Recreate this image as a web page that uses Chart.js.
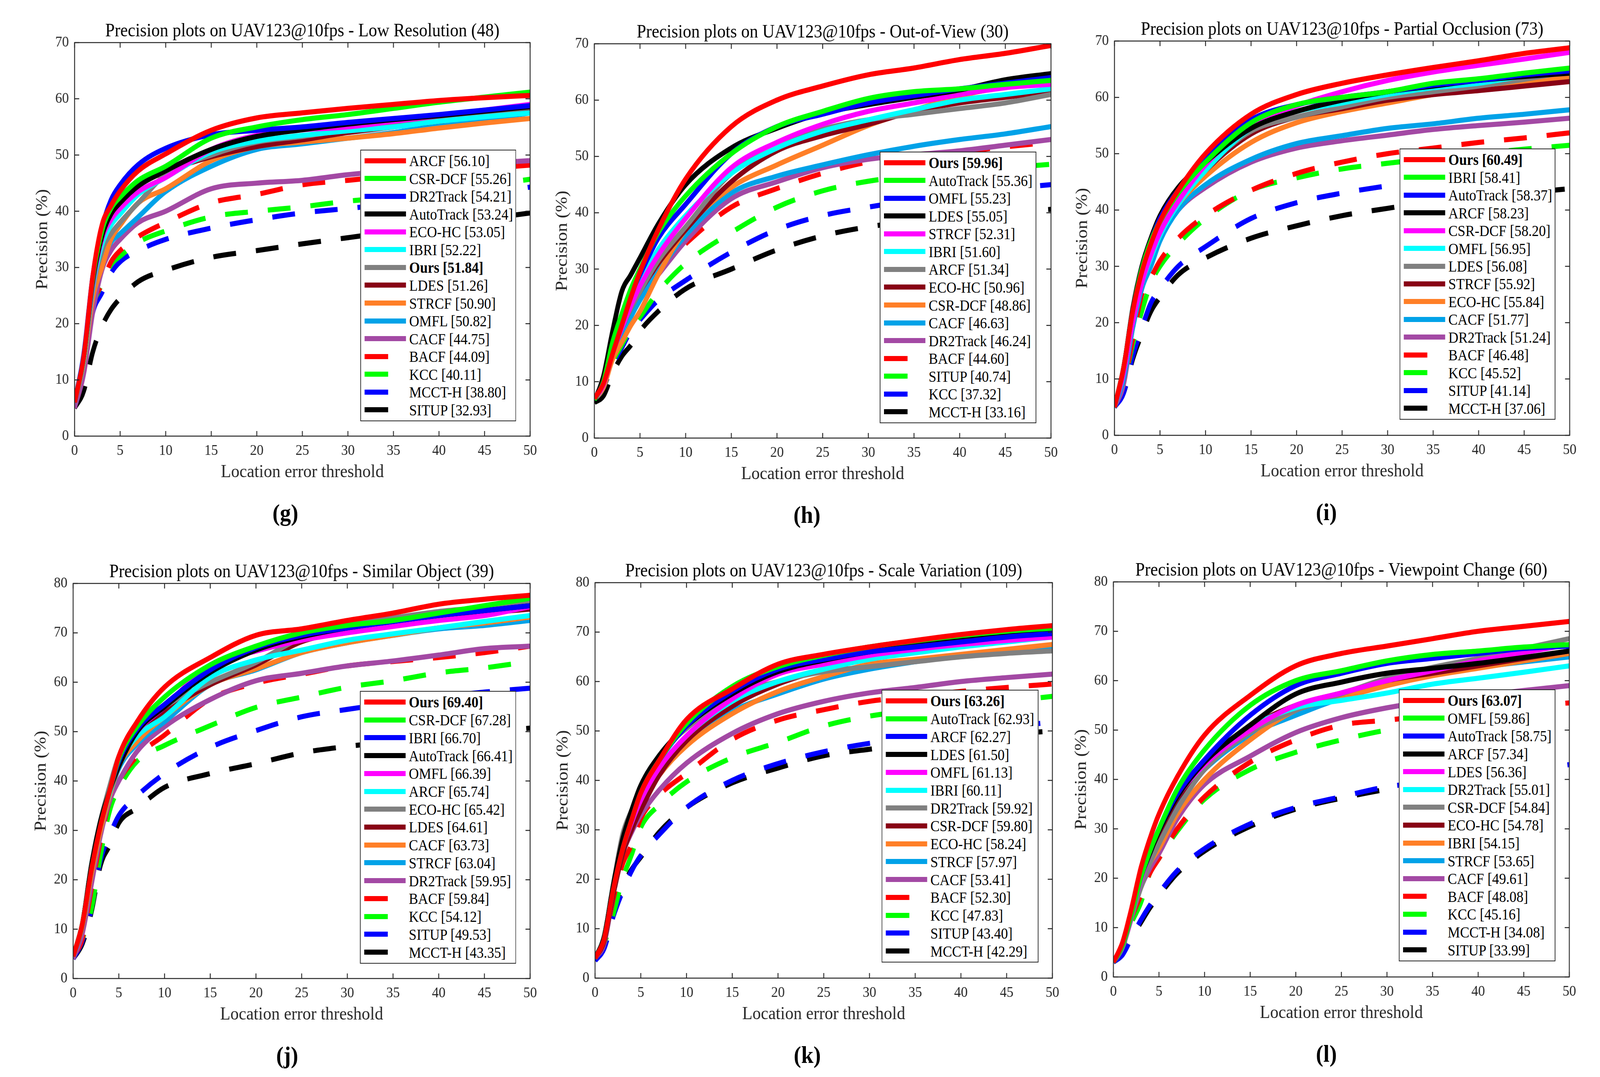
<!DOCTYPE html>
<html>
<head>
<meta charset="utf-8">
<title>Precision plots on UAV123@10fps</title>
<script src="https://cdn.jsdelivr.net/npm/chart.js@4.4.1/dist/chart.umd.min.js"></script>
<style>
  html, body { margin: 0; padding: 0; background: #fff; overflow: hidden; }
  #page { position: absolute; left: 0; top: 0; width: 4485px; height: 2756px; overflow: hidden; background: #fff;
          transform-origin: 0 0; font-family: "Liberation Serif", "Times New Roman", serif; }
  #page canvas { position: absolute; }
  .legend { position: absolute; box-sizing: border-box; border: 2px solid #262626; background: #fff; }
  .legend .row { position: absolute; left: 0; right: 0; }
  .legend .swatch { position: absolute; left: 10px; top: 50%; height: 13px; margin-top: -7px; }
  .legend .label { position: absolute; left: 135px; top: 0; bottom: 0; display: flex; align-items: center;
                   font-size: 39px; white-space: nowrap; color: #000; }
  .legend .label.ours { font-weight: bold; }
  .tag { position: absolute; font-size: 62px; font-weight: bold; line-height: 1; transform: translate(-50%, -50%); }
</style>
</head>
<body>
<div id="page"></div>
<script>
// location error thresholds where the curves are sampled
const thresholds = [0, 1, 2, 3, 4, 5, 7, 10, 15, 20, 25, 30, 35, 40, 45, 50];

// (g) Low Resolution
const lowResNames  = ['ARCF', 'CSR-DCF', 'DR2Track', 'AutoTrack', 'ECO-HC', 'IBRI', 'Ours', 'LDES', 'STRCF', 'OMFL', 'CACF', 'BACF', 'KCC', 'MCCT-H', 'SITUP'];
const lowResScores = ['56.10', '55.26', '54.21', '53.24', '53.05', '52.22', '51.84', '51.26', '50.90', '50.82', '44.75', '44.09', '40.11', '38.80', '32.93'];
const lowResPrecision = [
  [6, 14, 28.5, 37.5, 41, 43.6, 47.2, 50.2, 54.4, 56.6, 57.5, 58.3, 59, 59.7, 60.2, 60.6],
  [6, 14, 28, 36.5, 40.5, 42.5, 45.5, 48, 53, 55, 56.3, 57.2, 58.3, 59.4, 60.3, 61.2],
  [6, 14.5, 28.5, 37, 42, 44.7, 48.3, 51.2, 53.6, 54.4, 55, 55.8, 56.5, 57.2, 58, 58.8],
  [6, 14, 27.5, 35.5, 39.5, 41.5, 44.5, 47.2, 51, 53.3, 54.5, 55.5, 56.3, 57, 57.8, 58.6],
  [6, 14, 27, 35, 38.5, 40.5, 43.5, 46, 51, 53.5, 54.5, 55, 56, 57, 58, 59],
  [6, 13.5, 26.5, 34, 37.5, 39.5, 43, 46, 50.5, 52.5, 53.5, 54.3, 55, 56, 56.8, 57.5],
  [6, 13.5, 26, 33, 36, 38, 41.5, 46.5, 50, 52.3, 53.3, 54.5, 55.5, 56.5, 57.5, 58.5],
  [6, 14, 27, 34.5, 38, 41, 44.5, 47, 49.7, 51.5, 52.7, 54, 55, 56, 57, 58],
  [6, 13, 24.5, 30, 35, 37.5, 41.5, 44, 49, 51.5, 52.3, 53, 53.8, 54.8, 55.7, 56.5],
  [6, 13, 25, 31, 34.5, 36, 39, 43.5, 48, 51, 52, 53, 54, 55.3, 56.3, 57.5],
  [5, 11, 22, 29.5, 33, 35, 38, 40, 44, 45, 45.5, 46.5, 47.2, 48, 48.5, 49],
  [6, 14, 23.5, 27, 31, 33, 35.5, 38, 41.5, 43, 44.7, 45.5, 46.3, 47, 47.6, 48.2],
  [6, 13.5, 23, 27, 30.5, 32, 34.5, 36.5, 39, 40, 40.8, 41.8, 42.5, 43.3, 44.5, 45.7],
  [5.5, 13, 22, 25.5, 29, 31, 33, 35, 37, 38.5, 39.7, 40.5, 41.3, 42, 43, 44.3],
  [5, 8, 15, 19.5, 22.5, 24.5, 27.5, 29.5, 31.8, 33, 34.2, 35.3, 36.4, 37.5, 38.6, 39.7]
];

// (h) Out-of-View
const outViewNames  = ['Ours', 'AutoTrack', 'OMFL', 'LDES', 'STRCF', 'IBRI', 'ARCF', 'ECO-HC', 'CSR-DCF', 'CACF', 'DR2Track', 'BACF', 'SITUP', 'KCC', 'MCCT-H'];
const outViewScores = ['59.96', '55.36', '55.23', '55.05', '52.31', '51.60', '51.34', '50.96', '48.86', '46.63', '46.24', '44.60', '40.74', '37.32', '33.16'];
const outViewPrecision = [
  [7, 9.7, 15, 20, 25, 29.5, 37, 46, 55.3, 60, 62.5, 64.5, 65.7, 67.2, 68.3, 69.7],
  [6.8, 10, 17, 22, 26.5, 30, 36.5, 43, 50.5, 55.3, 58, 60.3, 61.5, 62, 62.8, 63.5],
  [6.8, 10, 16.5, 21, 25.5, 29, 35.5, 41.5, 50.5, 55.3, 57.5, 59.5, 60.8, 62, 63, 64],
  [6.5, 11, 19, 26, 29, 32, 38, 45, 51.5, 55, 57.7, 59.2, 60.5, 61.8, 63.6, 64.7],
  [6.8, 9.5, 15, 19.5, 23.5, 27, 32.5, 39, 48, 52.5, 55.7, 58, 59.5, 61, 62.2, 62.8],
  [6.8, 9.5, 15.5, 20, 24.5, 28, 33.5, 39.5, 47, 51.5, 54.5, 56.5, 58.3, 60, 61, 62],
  [6.8, 9.5, 15, 19.5, 23, 26, 31.5, 37.5, 47, 51.5, 54.8, 56.5, 57.5, 58.5, 59.5, 61],
  [6.8, 9.5, 15, 19.5, 23, 26, 31, 37, 45.5, 51, 53.7, 55.7, 58, 59.5, 60.5, 61.5],
  [6.8, 9, 14, 17, 20, 22.5, 29, 37, 44.5, 48.5, 52, 55.5, 58.2, 60.7, 62.5, 64.3],
  [6.8, 9, 14.5, 18, 21.5, 24.5, 29.5, 36, 43.5, 46.5, 48.5, 50.3, 51.8, 53, 54, 55.3],
  [6.8, 9.5, 15.5, 20, 23, 25, 29, 35, 42.5, 45.5, 48, 49.5, 50.3, 51, 52, 53],
  [7, 9, 14, 18, 22.5, 25, 29.5, 34.5, 41, 44.3, 47, 49, 50, 50.8, 51.7, 52.5],
  [7, 9, 13.5, 16.5, 19.5, 21.5, 26, 31, 36.5, 41, 43.9, 45.6, 46.6, 47.5, 48, 48.6],
  [7, 9, 13, 16, 19, 21, 24.5, 28, 33, 37, 39.5, 41, 42.3, 43.3, 44.2, 45],
  [6.3, 7.5, 11.5, 14.5, 16.5, 19, 22.5, 26.5, 30, 33.4, 35.9, 37.5, 38.5, 39.5, 40, 40.6]
];

// (i) Partial Occlusion
const occlusionNames  = ['Ours', 'IBRI', 'AutoTrack', 'ARCF', 'CSR-DCF', 'OMFL', 'LDES', 'STRCF', 'ECO-HC', 'CACF', 'DR2Track', 'BACF', 'KCC', 'SITUP', 'MCCT-H'];
const occlusionScores = ['60.49', '58.41', '58.37', '58.23', '58.20', '56.95', '56.08', '55.92', '55.84', '51.77', '51.24', '46.48', '45.52', '41.14', '37.06'];
const occlusionPrecision = [
  [5, 12, 22, 29, 34, 38, 43.5, 50, 57, 60.5, 62.5, 64, 65.3, 66.5, 67.8, 68.8],
  [5, 12, 22, 29.5, 34.5, 38, 43, 48.5, 55.5, 58.7, 60, 61, 62.5, 63.3, 64.3, 65.2],
  [5, 12, 22, 29.5, 34.5, 38.5, 43.5, 49, 56, 58.7, 60, 61, 62.2, 63, 64, 64.7],
  [5, 12, 22.5, 30, 35, 39, 44, 48.5, 54.5, 57.5, 59.5, 61, 62, 63, 63.7, 64.3],
  [5, 11, 20, 27, 32, 36, 41.5, 48, 55, 58.5, 61, 63, 64.5, 65.7, 66.8, 68],
  [5, 11, 20, 27, 31.5, 35.5, 41, 47, 54.5, 57.5, 59, 60.5, 61.7, 62.5, 63.8, 65],
  [5, 12, 22, 29, 34, 37.5, 42.5, 47.5, 54, 56.5, 58.3, 60, 61, 62, 63.2, 64.6],
  [5, 11.5, 21, 28, 33, 36.5, 41.5, 47, 53.5, 56.5, 58, 59.5, 60.5, 61.2, 62, 62.8],
  [5, 11, 20, 27, 32, 36, 41, 46, 52, 55.5, 57.5, 59, 60.5, 61.8, 62.8, 63.6],
  [5, 10, 19, 26, 30, 34.5, 40, 44.5, 49, 51.8, 53.2, 54.5, 55.3, 56.3, 57, 57.8],
  [5, 9, 19, 26, 31, 35, 40, 44, 48.5, 51, 52.3, 53.3, 54.3, 55, 55.6, 56.3],
  [5, 9, 17, 25, 28, 31, 35, 39, 43.5, 46.5, 48.5, 50, 51, 52, 52.8, 53.7],
  [5, 9, 16, 22, 27, 30, 34, 38.5, 43.5, 45.7, 47.3, 48.3, 49.2, 50, 50.8, 51.5],
  [5, 7.5, 14, 19, 23.5, 26, 30, 33.5, 38.5, 41.3, 43, 44.3, 45.5, 46.5, 47.3, 48],
  [5, 7.5, 13.5, 18, 22, 24.5, 28.5, 31.5, 35, 37.2, 39, 40.3, 41.5, 42.3, 43, 43.8]
];

// (j) Similar Object
const similarNames  = ['Ours', 'CSR-DCF', 'IBRI', 'AutoTrack', 'OMFL', 'ARCF', 'ECO-HC', 'LDES', 'CACF', 'STRCF', 'DR2Track', 'BACF', 'KCC', 'SITUP', 'MCCT-H'];
const similarScores = ['69.40', '67.28', '66.70', '66.41', '66.39', '65.74', '65.42', '64.61', '63.73', '63.04', '59.95', '59.84', '54.12', '49.53', '43.35'];
const similarPrecision = [
  [4.5, 11, 22, 31, 38, 45, 52, 59, 65, 69.5, 70.8, 72.5, 74, 75.8, 76.8, 77.6],
  [4.5, 11, 22, 31, 38, 44.5, 51, 57, 63.5, 67.3, 70, 71.5, 72.5, 74, 75.5, 77],
  [4.5, 11, 22, 31, 38, 44, 50.5, 55.5, 62.5, 67, 69.5, 71, 72.3, 73.5, 74.5, 75.5],
  [4.5, 11, 23, 32, 38, 43, 50, 55, 62, 66.5, 69.2, 71, 72.3, 73.5, 74.5, 75.5],
  [4.5, 11, 22, 31, 38, 44, 50, 55, 63.5, 66.3, 68.5, 70, 71.3, 72.5, 73.5, 75.3],
  [4.5, 11, 22, 31, 37.5, 43.5, 49, 53, 61, 64.5, 66.5, 68.5, 69.8, 71, 72.3, 73.5],
  [4.5, 11, 23, 32, 39, 45, 50.5, 55, 60, 64, 69, 71.5, 73, 74.3, 75.2, 76.5],
  [4.5, 11, 22.5, 31, 38, 44, 49.5, 54, 59.5, 63.5, 68.2, 70.3, 71.8, 73, 74, 74.8],
  [4.5, 10.5, 21, 30, 37, 43, 48, 53, 59.5, 62.7, 66, 68, 69.5, 71, 72, 73.2],
  [4.5, 10.5, 21, 30, 37, 42.5, 47.5, 52, 59.5, 62.5, 66, 68, 69.5, 70.8, 71.5, 72.5],
  [4, 9, 19, 29, 36, 40, 46, 51, 56.5, 60.3, 61.8, 63.3, 64.3, 65.5, 66.8, 67.3],
  [4.5, 8, 18, 28, 36, 40, 45, 49.3, 56.6, 59.8, 61.6, 63.3, 64.2, 65, 66, 67.3],
  [4.5, 8, 14, 25, 34, 38.5, 44, 47.2, 51.2, 54.9, 57, 59, 60.3, 61.9, 62.9, 64.2],
  [4, 7.5, 14, 24, 29, 33, 37, 41.5, 46.8, 50.2, 53, 54.5, 55.8, 57, 58, 58.8],
  [4, 7, 13.5, 23, 27, 31.5, 34.5, 38.7, 41.5, 43.5, 45.7, 47, 48, 49, 49.8, 50.7]
];

// (k) Scale Variation
const scaleNames  = ['Ours', 'AutoTrack', 'ARCF', 'LDES', 'OMFL', 'IBRI', 'DR2Track', 'CSR-DCF', 'ECO-HC', 'STRCF', 'CACF', 'BACF', 'KCC', 'SITUP', 'MCCT-H'];
const scaleScores = ['63.26', '62.93', '62.27', '61.50', '61.13', '60.11', '59.92', '59.80', '58.24', '57.97', '53.41', '52.30', '47.83', '43.40', '42.29'];
const scalePrecision = [
  [4, 8, 18, 26, 32, 37.5, 44, 52.3, 58.5, 63.5, 65.5, 67, 68.3, 69.5, 70.5, 71.3],
  [4, 8, 18, 26, 32, 37.5, 44, 51.5, 59, 63, 65.3, 67, 68.2, 69.3, 70.2, 70.8],
  [4, 8, 18, 26, 32, 37.5, 44, 51, 58, 62.5, 64.5, 66, 67, 68, 69, 69.7],
  [4, 8.5, 19, 28, 34, 39, 45, 51, 57.5, 62, 64.3, 66, 67.3, 68.5, 69.3, 70],
  [4, 8, 18, 26, 31.5, 36, 42.5, 49, 56.5, 61.5, 63.5, 65.3, 66.5, 67.5, 68.3, 69],
  [4, 8, 18, 26, 31.5, 36, 42.5, 49, 56, 60, 62.5, 64.5, 65.8, 67, 68, 69],
  [4, 8.5, 19, 29, 34, 38.5, 45, 50.5, 57, 60, 62, 63, 64, 65, 65.7, 66.2],
  [4, 7.5, 17, 25, 30, 34, 41, 48, 55, 59.5, 62.5, 65.3, 67.3, 68.7, 70, 71],
  [4, 8, 18, 26, 31.5, 35, 41, 47, 53.5, 58, 61, 63.5, 64.5, 65.5, 66.5, 67.5],
  [4, 8, 18, 26, 32, 36, 42, 47.5, 54, 57.5, 60.5, 62.5, 64, 65.3, 66.3, 67],
  [4, 7, 17, 25, 29.5, 33, 38, 43.5, 49.5, 53.5, 56, 57.7, 58.8, 60, 60.8, 61.5],
  [4, 7, 16, 23, 27, 32.3, 37, 41.4, 48.3, 52.2, 54.3, 56, 57, 58, 58.8, 59.5],
  [4, 7, 13, 20, 25, 30.5, 35, 39.7, 44.6, 47.7, 51, 53, 54.2, 55.2, 56, 57],
  [3.5, 6, 12.5, 17.5, 21.7, 24.8, 29, 34.5, 40, 43.4, 45.8, 47.5, 48.7, 49.8, 50.8, 51.8],
  [3.5, 7, 13, 18.5, 22, 24.5, 29.5, 34.5, 39.5, 42.5, 45, 46.3, 47.5, 48.5, 49.3, 50]
];

// (l) Viewpoint Change
const viewpointNames  = ['Ours', 'OMFL', 'AutoTrack', 'ARCF', 'LDES', 'DR2Track', 'CSR-DCF', 'ECO-HC', 'IBRI', 'STRCF', 'CACF', 'BACF', 'KCC', 'MCCT-H', 'SITUP'];
const viewpointScores = ['63.07', '59.86', '58.75', '57.34', '56.36', '55.01', '54.84', '54.78', '54.15', '53.65', '49.61', '48.08', '45.16', '34.08', '33.99'];
const viewpointPrecision = [
  [3, 7, 14, 22, 28, 33, 40.5, 49, 57, 63, 65.5, 67, 68.5, 70, 71, 72],
  [3, 6.5, 13, 20, 25.5, 30, 38, 46, 55, 60, 62, 64, 65.3, 66, 66.8, 67.3],
  [3, 6.5, 13, 20, 25.5, 30, 37, 44, 53, 59, 61.5, 63.5, 64.5, 65.5, 66.5, 67],
  [3, 6.5, 13, 20, 25, 29.5, 36.5, 43.5, 51, 57.3, 59.7, 61.5, 62.5, 63.5, 64.7, 66],
  [3, 6.5, 13, 19.5, 25, 29.5, 36.5, 43, 50, 55, 57.5, 60, 62, 64, 65.7, 67.3],
  [3, 6.5, 13, 19.5, 25, 29.5, 36.5, 43, 50.5, 54.5, 56, 57.5, 59.3, 60.5, 61.7, 63],
  [3, 6, 12.5, 18, 23, 27, 34, 42, 49.5, 54, 57.3, 60.5, 62.7, 64.5, 66.5, 68.5],
  [3, 6.5, 13, 19.5, 25, 29, 36, 42.5, 50.5, 55, 57.5, 60, 61.5, 63, 64.5, 66],
  [3, 6.5, 12.5, 18.5, 23, 26, 33, 40, 48, 54, 56.5, 59, 61, 62.5, 64, 65.5],
  [3, 6.5, 13, 19, 25, 29, 35.5, 42, 49, 53, 56.5, 59.5, 61.3, 62.7, 63.8, 64.8],
  [3, 6, 12, 18, 22, 25, 32, 39, 44.7, 49.5, 52.5, 54.5, 56, 57, 58, 59],
  [3, 6, 12, 16.5, 21, 24, 30, 36.5, 43.5, 48, 51, 52, 53, 54, 54.8, 55.5],
  [3, 6, 11, 15, 21, 24, 29.5, 36, 42, 45.5, 48, 50, 51.3, 52.5, 53.5, 54.3],
  [3, 4.5, 8, 11.5, 14.5, 17, 21.5, 26, 31, 34.3, 36.5, 38.5, 39.5, 40.5, 41.8, 43],
  [3, 4.5, 8, 11, 14, 16.5, 21, 25.5, 30.5, 34, 36.2, 38, 39.3, 40.3, 41.5, 42.5]
];

// style by legend position: 11 solid lines, then 4 dashed
const lineColors = ['#ff0000', '#00ff00', '#0000ff', '#000000', '#ff00ff', '#00ffff', '#808080',
                    '#880015', '#ff7f27', '#00a2e8', '#a349a4', '#ff0000', '#00ff00', '#0000ff', '#000000'];
const FIRST_DASHED = 11;

const FONT = '"Liberation Serif", "Times New Roman", serif';
const AXIS_W = 200, TITLE_H = 110, XAXIS_H = 135, PAD_R = 40;

// page layout of the six panels (plot box + legend box, page pixels)
const panels = [
  { tag: '(g)', title: 'Precision plots on UAV123@10fps - Low Resolution (48)', yMax: 70,
    names: lowResNames, scores: lowResScores, values: lowResPrecision,
    plot: { l: 209, t: 109, r: 1486, b: 1116 }, legend: { l: 1010, t: 383, r: 1447, b: 1078 }, tagX: 800 },
  { tag: '(h)', title: 'Precision plots on UAV123@10fps - Out-of-View (30)', yMax: 70,
    names: outViewNames, scores: outViewScores, values: outViewPrecision,
    plot: { l: 1666, t: 112, r: 2946, b: 1121 }, legend: { l: 2466, t: 388, r: 2905, b: 1083 }, tagX: 2262 },
  { tag: '(i)', title: 'Precision plots on UAV123@10fps - Partial Occlusion (73)', yMax: 70,
    names: occlusionNames, scores: occlusionScores, values: occlusionPrecision,
    plot: { l: 3124, t: 105, r: 4400, b: 1114 }, legend: { l: 3923, t: 380, r: 4360, b: 1074 }, tagX: 3718 },
  { tag: '(j)', title: 'Precision plots on UAV123@10fps - Similar Object (39)', yMax: 80,
    names: similarNames, scores: similarScores, values: similarPrecision,
    plot: { l: 205, t: 1493, r: 1486, b: 2504 }, legend: { l: 1009, t: 1768, r: 1447, b: 2466 }, tagX: 805 },
  { tag: '(k)', title: 'Precision plots on UAV123@10fps - Scale Variation (109)', yMax: 80,
    names: scaleNames, scores: scaleScores, values: scalePrecision,
    plot: { l: 1668, t: 1491, r: 2950, b: 2503 }, legend: { l: 2471, t: 1765, r: 2911, b: 2463 }, tagX: 2263 },
  { tag: '(l)', title: 'Precision plots on UAV123@10fps - Viewpoint Change (60)', yMax: 80,
    names: viewpointNames, scores: viewpointScores, values: viewpointPrecision,
    plot: { l: 3121, t: 1489, r: 4399, b: 2500 }, legend: { l: 3921, t: 1764, r: 4360, b: 2460 }, tagX: 3718 }
];

// MATLAB style box with inward ticks on all four sides
const frameTicks = {
  id: 'frameTicks',
  afterDatasetsDraw(chart) {
    const { ctx, chartArea: a, scales: { x, y } } = chart;
    const len = 13;
    ctx.save();
    ctx.strokeStyle = '#262626';
    ctx.lineWidth = 2.5;
    ctx.strokeRect(a.left, a.top, a.right - a.left, a.bottom - a.top);
    ctx.beginPath();
    x.ticks.forEach(t => {
      const px = x.getPixelForValue(t.value);
      ctx.moveTo(px, a.bottom); ctx.lineTo(px, a.bottom - len);
      ctx.moveTo(px, a.top); ctx.lineTo(px, a.top + len);
    });
    y.ticks.forEach(t => {
      const py = y.getPixelForValue(t.value);
      ctx.moveTo(a.left, py); ctx.lineTo(a.left + len, py);
      ctx.moveTo(a.right, py); ctx.lineTo(a.right - len, py);
    });
    ctx.stroke();
    ctx.restore();
  }
};

const page = document.getElementById('page');

// the window may be narrower than 4485 px: stretch the layout to fill it
function fitPage() {
  const vw = document.documentElement.clientWidth || window.innerWidth;
  const vh = document.documentElement.clientHeight || window.innerHeight;
  const sx = vw / 4485, sy = vh / 2756;
  page.style.transform = 'scale(' + sx + ',' + sy + ')';
  return Math.max(sx, sy);
}
const pageScale = fitPage();
const backing = Math.max(1, (window.devicePixelRatio || 1) * pageScale);

function drawPanel(p) {
  const W = p.plot.r - p.plot.l + AXIS_W + PAD_R;
  const H = p.plot.b - p.plot.t + TITLE_H + XAXIS_H;
  const canvas = document.createElement('canvas');
  canvas.style.left = (p.plot.l - AXIS_W) + 'px';
  canvas.style.top = (p.plot.t - TITLE_H) + 'px';
  canvas.style.width = W + 'px';
  canvas.style.height = H + 'px';
  canvas.width = W;
  canvas.height = H;
  page.appendChild(canvas);

  const datasets = p.names.map((name, k) => ({
    label: name,
    data: thresholds.map((t, j) => ({ x: t, y: p.values[k][j] })),
    borderColor: lineColors[k],
    borderWidth: 13,
    borderDash: k >= FIRST_DASHED ? [64, 56] : [],
    borderCapStyle: 'butt',
    borderJoinStyle: 'round',
    pointRadius: 0,
    fill: false,
    cubicInterpolationMode: 'monotone',
    clip: 0
  }));

  new Chart(canvas, {
    type: 'line',
    data: { datasets },
    options: {
      responsive: false,
      animation: false,
      devicePixelRatio: backing,
      events: [],
      layout: { padding: { top: TITLE_H - 47.5 * 1.2, right: PAD_R, left: 0, bottom: 0 } },
      plugins: {
        legend: { display: false },
        tooltip: { enabled: false },
        title: {
          display: true, text: p.title, color: '#000', padding: 0, fullSize: false,
          font: { family: FONT, size: 47.5, weight: 'normal', lineHeight: 1.2 }
        }
      },
      scales: {
        x: {
          type: 'linear', min: 0, max: 50,
          grid: { display: false, drawTicks: false },
          border: { display: false },
          ticks: { stepSize: 5, color: '#262626', padding: 15, maxRotation: 0, autoSkip: false,
                   font: { family: FONT, size: 38 } },
          title: { display: true, text: 'Location error threshold', color: '#262626',
                   font: { family: FONT, size: 47, lineHeight: 1.2 }, padding: { top: 0, bottom: 14 } },
          afterFit(scale) { scale.height = XAXIS_H; }
        },
        y: {
          min: 0, max: p.yMax,
          grid: { display: false, drawTicks: false },
          border: { display: false },
          ticks: { stepSize: 10, color: '#262626', padding: 16,
                   font: { family: FONT, size: 38 } },
          title: { display: true, text: 'Precision (%)', color: '#262626',
                   font: { family: FONT, size: 47, lineHeight: 1.2 }, padding: { top: 82, bottom: 0 } },
          afterFit(scale) { scale.width = AXIS_W; }
        }
      }
    },
    plugins: [frameTicks]
  });

  // legend box inside the axes
  const box = document.createElement('div');
  box.className = 'legend';
  const bw = p.legend.r - p.legend.l, bh = p.legend.b - p.legend.t;
  box.style.left = p.legend.l + 'px';
  box.style.top = p.legend.t + 'px';
  box.style.width = bw + 'px';
  box.style.height = bh + 'px';
  const pad = 4;
  const rowH = (bh - 4 - 2 * pad) / p.names.length;
  p.names.forEach((name, k) => {
    const row = document.createElement('div');
    row.className = 'row';
    row.style.top = (pad + k * rowH) + 'px';
    row.style.height = rowH + 'px';
    const sw = document.createElement('div');
    sw.className = 'swatch';
    sw.style.width = (k >= FIRST_DASHED ? 66 : 116) + 'px';
    sw.style.background = lineColors[k];
    const lab = document.createElement('div');
    lab.className = 'label' + (name === 'Ours' ? ' ours' : '');
    lab.textContent = name + ' [' + p.scores[k] + ']';
    row.appendChild(sw);
    row.appendChild(lab);
    box.appendChild(row);
  });
  page.appendChild(box);

  const tag = document.createElement('div');
  tag.className = 'tag';
  tag.textContent = p.tag;
  tag.style.left = p.tagX + 'px';
  tag.style.top = (p.plot.b + 196) + 'px';
  page.appendChild(tag);
}

panels.forEach(drawPanel);
</script>
</body>
</html>
